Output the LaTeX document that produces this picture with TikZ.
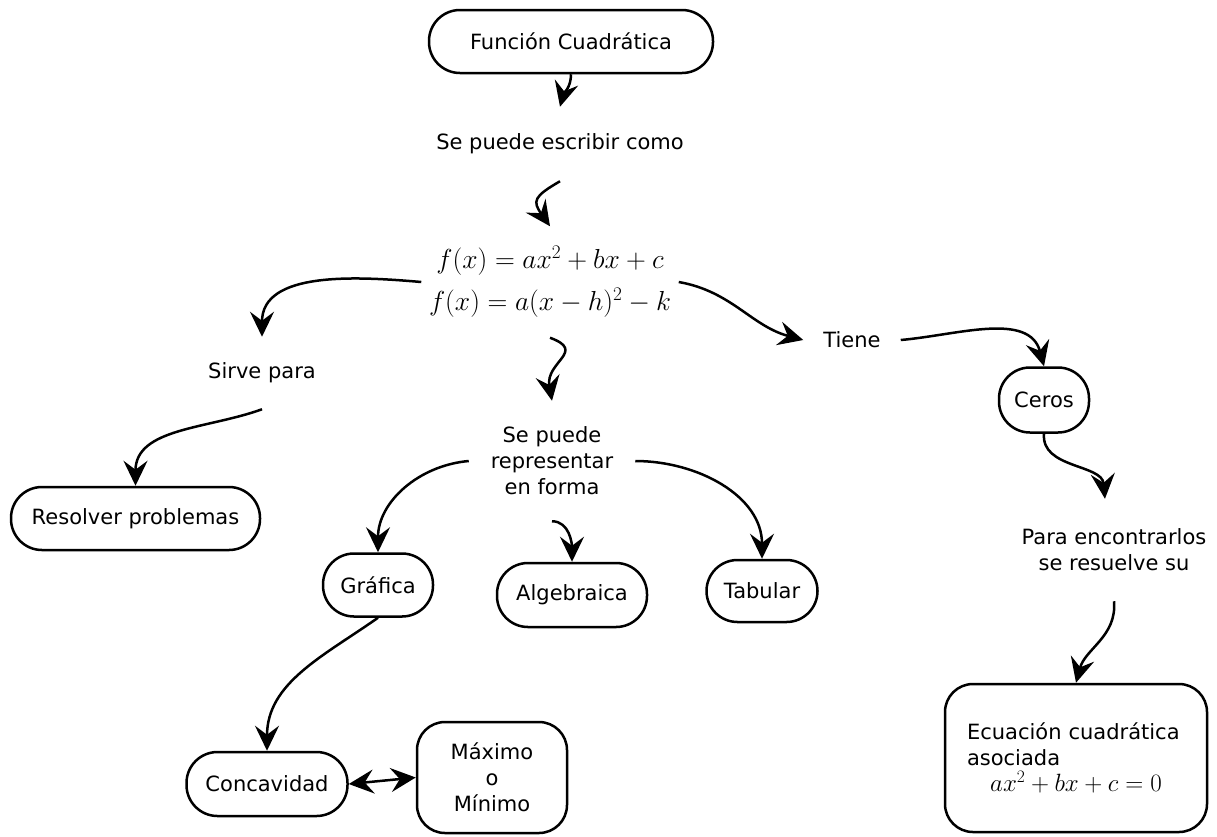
\RequirePackage{fix-cm}
\documentclass[tikz,border=0pt]{standalone}
\usepackage{fontspec}
\setmainfont{DejaVu Sans}
\usetikzlibrary{arrows.meta}

\begin{document}
\begin{tikzpicture}[x=1pt, y=1pt, line width=2.5pt, font=\fontsize{21}{26}\selectfont,
    >={Stealth[length=25pt,width=24pt,inset=9pt]},
    main/.style = {draw, rounded corners=31pt, minimum height=63pt, inner sep=0pt},
    big/.style = {draw, rounded corners=28pt, inner sep=0pt, align=center},
    word/.style = {inner sep=0pt, align=center}]
    \useasboundingbox (0,0) rectangle (1217,-836);
    \node[main, minimum width=284pt] (1) at (571,-41.5) {Función Cuadrática};
    \node[word, minimum height=72pt] (2) at (560,-144) {Se puede escribir como};
    \node[word, minimum width=255pt, minimum height=109pt, font=\fontsize{27.5}{42}\selectfont] (3) at (550,-282)
        {$f(x) = ax^2 + bx + c$\\$f(x) = a(x-h)^2 - k$};
    \node[word, minimum width=164pt, minimum height=118pt] (4) at (552,-461) {Se puede\\representar\\en forma};
    \node[word, minimum height=70pt] (5) at (262,-373) {Sirve para};
    \node[word, minimum width=95pt] (6) at (852,-340) {Tiene};
    \node[main, minimum width=249pt] (7) at (135.5,-518.5) {Resolver problemas};
    \node[main, minimum width=90pt, minimum height=65pt] (8) at (1044,-400) {Ceros};
    \node[word, minimum height=100pt] (9) at (1114,-550) {Para encontrarlos\\se resuelve su};
    \node[big, minimum width=262pt, minimum height=148pt, text width=218pt, align=left] (10) at (1076,-758)
        {Ecuación cuadrática\\asociada\\\makebox[218pt][c]{\fontsize{25}{26}\selectfont$ax^2 + bx + c = 0$}};
    \node[main, minimum width=110pt] (11) at (378,-585) {Gráfica};
    \node[main, minimum width=150pt, minimum height=64pt] (12) at (572,-595) {Algebraica};
    \node[main, minimum width=111pt, minimum height=62pt] (13) at (762,-591) {Tabular};
    \node[main, minimum width=161pt, minimum height=64pt] (14) at (267,-784) {Concavidad};
    \node[big, minimum width=150pt, minimum height=111pt] (15) at (492,-777.5) {Máximo\\o\\Mínimo};
    \draw[->] (1.south) to[out=-90, in=75] (2.north);
    \draw[->] (2.south) to[out=210, in=125, looseness=1.7] (3.north);
    \draw[->] (3.west) to[out=175, in=90] (5.north);
    \draw[->] (5.south) to[out=200, in=90] (7.north);
    \draw[->] (3.east) to[out=-10, in=165] (6.west);
    \draw[->] (6.east) to[out=5, in=105] (8.north);
    \draw[->] (8.south) to[out=-95, in=95] (9.100);
    \draw[->] (9.south) to[out=-85, in=75] (10.north);
    \draw[->] (3.south) to[out=-20, in=100, looseness=1.6] (4.north);
    \draw[->] (4.west) to[out=185, in=90] (11.north);
    \draw[->] (4.south) to[out=0, in=90] (12.north);
    \draw[->] (4.east) to[out=0, in=90] (13.north);
    \draw[->] (11.south) to[out=215, in=90] (14.north);
    \draw[<->] (14.east) -- (15.west);
\end{tikzpicture}
\end{document}
